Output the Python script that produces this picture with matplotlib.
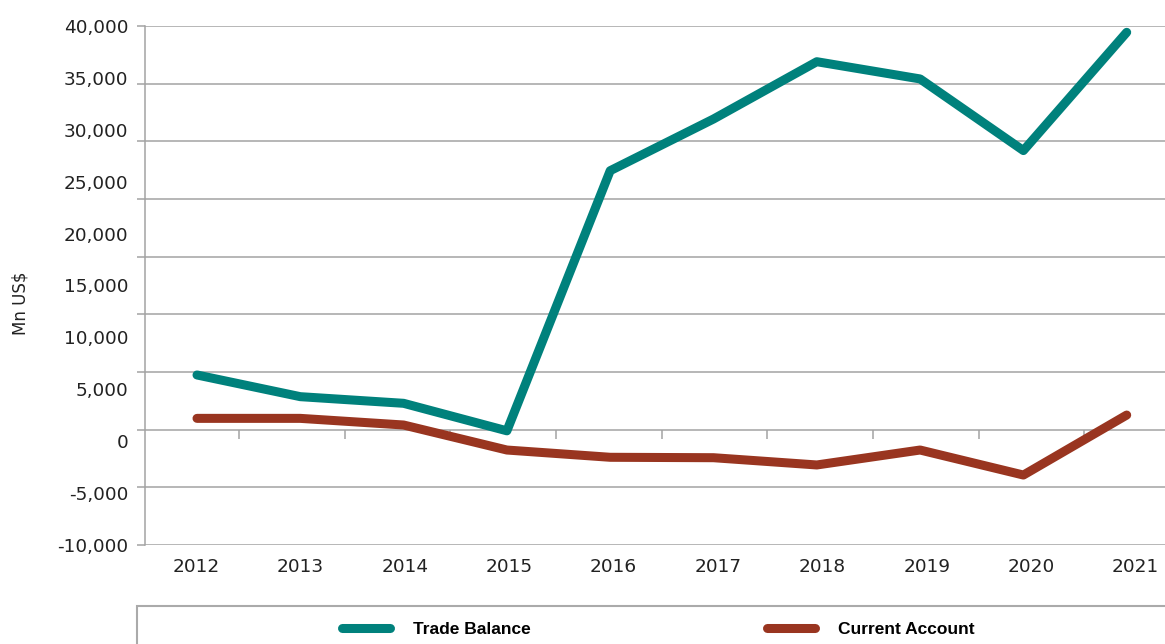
import matplotlib
matplotlib.use("Agg")
import matplotlib.pyplot as plt
import numpy as np
from matplotlib.ticker import FixedLocator, NullFormatter
from matplotlib.lines import Line2D
from matplotlib.patches import Rectangle

# ---------------- data ----------------
years = ["2012", "2013", "2014", "2015", "2016", "2017", "2018", "2019", "2020", "2021"]
trade_balance = [6380, 4290, 3650, 1000, 26060, 31040, 36560, 34900, 28000, 39390]
current_account = [2200, 2200, 1560, -850, -1550, -1590, -2290, -850, -3260, 2520]
y_tick_values = [40000, 35000, 30000, 25000, 20000, 15000, 10000, 5000, 0, -5000, -10000]
series_names = ["Trade Balance", "Current Account"]

TEAL = "#00817c"
BROWN = "#993520"
GRID = "#a3a3a3"
TXT = "#222222"

W, H = 1165, 644
fig = plt.figure(figsize=(W / 100, H / 100), dpi=100)

# axes placement (pixels -> figure fraction)
ax_left, ax_right, ax_top, ax_bottom = 145, 1165, 26, 545
ax = fig.add_axes([ax_left / W, 1 - ax_bottom / H,
                   (ax_right - ax_left) / W, (ax_bottom - ax_top) / H])

# x scale: data points every 103.3 px starting at 197 px
step = 103.3
x0_px = 197
x = np.arange(len(years))
ax.set_xlim((ax_left - x0_px) / step, (ax_right - x0_px) / step)
ymin, ymax = -10000, 40000
ax.set_ylim(ymin, ymax)

lw = 6.5
ax.plot(x, trade_balance, color=TEAL, lw=lw, solid_capstyle="round",
        solid_joinstyle="round", zorder=3)
ax.plot(x, current_account, color=BROWN, lw=lw, solid_capstyle="round",
        solid_joinstyle="round", zorder=3)

# category labels (slightly different spacing in original)
label_pos = [(196 - x0_px) / step + i * 104.4 / step for i in range(len(years))]
ax.set_xticks(label_pos)
ax.set_xticklabels(years, fontsize=13.3, color=TXT)
ax.tick_params(axis="x", length=0, pad=9)

# y labels (major, no marks) and gridlines (minor, 9 intervals)
ax.yaxis.set_major_locator(FixedLocator(y_tick_values))
ax.set_yticklabels([f"{v:,}" for v in y_tick_values], fontsize=13.3, color=TXT)
ax.tick_params(axis="y", which="major", length=0, pad=12)
grid_vals = np.linspace(ymin, ymax, 10)
ax.yaxis.remove_overlapping_locs = False
ax.yaxis.set_minor_locator(FixedLocator(grid_vals))
ax.yaxis.set_minor_formatter(NullFormatter())
ax.tick_params(axis="y", which="minor", length=5.8, width=1.1, color=GRID)
ax.grid(which="minor", axis="y", color=GRID, lw=1.1)
ax.set_axisbelow(True)

for s in ["top", "right", "bottom"]:
    ax.spines[s].set_visible(False)
ax.spines["left"].set_color(GRID)
ax.spines["left"].set_linewidth(1.1)

# category tick marks hanging from the gridline near zero
tick_pos = [(239 - x0_px) / step + k * 105.65 / step for k in range(len(years) - 1)]
loc_frac = (grid_vals[2] - ymin) / (ymax - ymin)
sec = ax.secondary_xaxis(loc_frac)
sec.set_xticks(tick_pos)
sec.tick_params(direction="out", length=6.7, width=1.1, color=GRID,
                labelbottom=False, labeltop=False)
for s in sec.spines.values():
    s.set_visible(False)

# y-axis title
fig.text(20 / W, 1 - 303 / H, "Mn US$", rotation=90, ha="center", va="center",
         fontsize=12, color=TXT)

# legend frame
fig.patches.append(Rectangle((137 / W, -0.05), 1.1, (1 - 606 / H) + 0.05,
                             transform=fig.transFigure, fill=False,
                             edgecolor="#aaaaaa", lw=1.5))

handles = [Line2D([0], [0], color=TEAL, lw=lw, solid_capstyle="round"),
           Line2D([0], [0], color=BROWN, lw=lw, solid_capstyle="round")]
fig.legend(handles, series_names, ncol=2, loc="center left",
           bbox_to_anchor=(342 / W, 1 - 629 / H), frameon=False,
           borderpad=0, borderaxespad=0, handlelength=2.75, handletextpad=1.35,
           columnspacing=13.6,
           prop=dict(family=["Liberation Sans", "DejaVu Sans"],
                     weight="bold", size=12.5))

fig.savefig("out.png", dpi=100)
